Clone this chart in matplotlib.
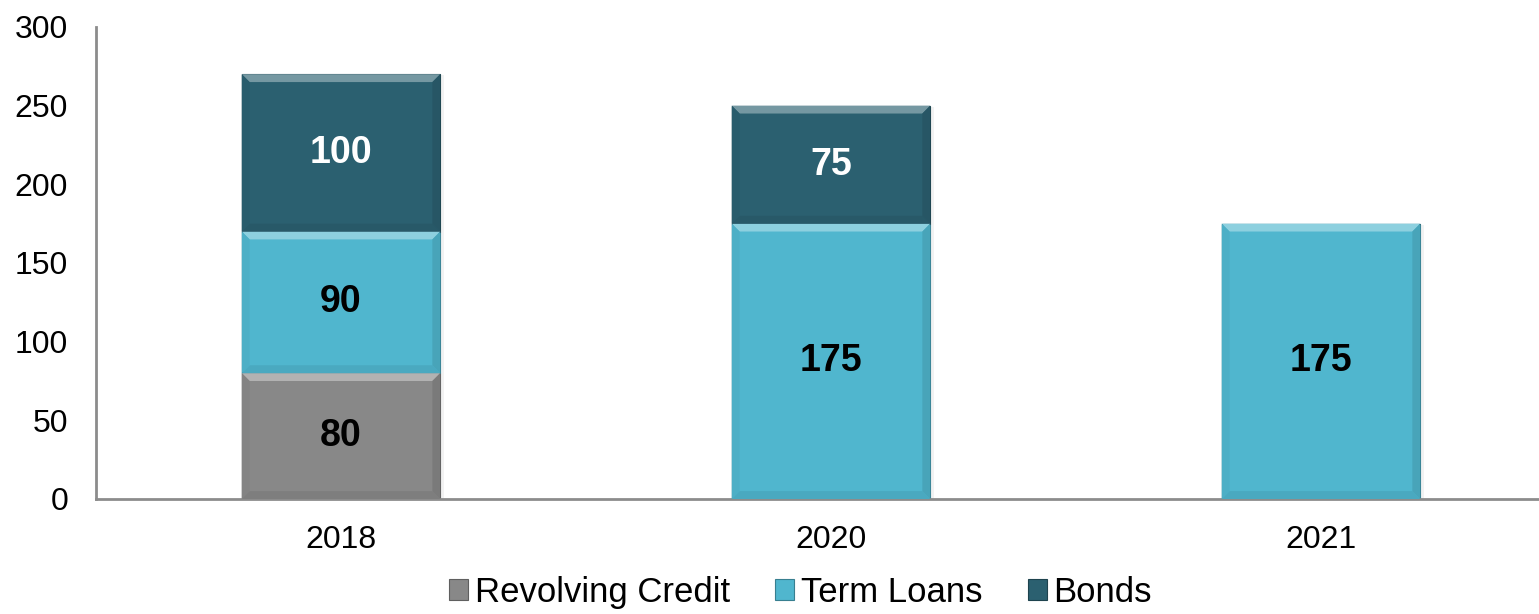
import matplotlib.pyplot as plt
import matplotlib as mpl
import numpy as np
from matplotlib.patches import Polygon, Patch
from matplotlib.colors import to_rgb

mpl.rcParams['font.family'] = ['Liberation Sans', 'DejaVu Sans']

years = ['2018', '2020', '2021']
revolving = [80, 0, 0]
term_loans = [90, 175, 175]
bonds = [100, 75, 0]

series_names = ['Revolving Credit', 'Term Loans', 'Bonds']
series_colors = ['#888888', '#50B6CE', '#2B6070']
label_colors = ['black', 'black', 'white']


def mix(c, other, t):
    c = np.array(to_rgb(c))
    o = np.array(to_rgb(other))
    return tuple(c * (1 - t) + o * t)


def bevel(ax, x0, y0, w, h, color):
    # light top edge, slightly darker sides and bottom
    bx, by = 0.016, 5.0
    x1, y1 = x0 + w, y0 + h
    top = [(x0, y1), (x1, y1), (x1 - bx, y1 - by), (x0 + bx, y1 - by)]
    bot = [(x0, y0), (x1, y0), (x1 - bx, y0 + by), (x0 + bx, y0 + by)]
    left = [(x0, y0), (x0, y1), (x0 + bx, y1 - by), (x0 + bx, y0 + by)]
    right = [(x1, y0), (x1, y1), (x1 - bx, y1 - by), (x1 - bx, y0 + by)]
    ax.add_patch(Polygon(top, closed=True, fc=mix(color, 'white', 0.35), ec='none', zorder=3))
    ax.add_patch(Polygon(bot, closed=True, fc=mix(color, 'black', 0.07), ec='none', zorder=3))
    ax.add_patch(Polygon(left, closed=True, fc=mix(color, 'black', 0.04), ec='none', zorder=3))
    ax.add_patch(Polygon(right, closed=True, fc=mix(color, 'black', 0.1), ec='none', zorder=3))


fig = plt.figure(figsize=(15.39, 6.14), dpi=100)
ax = fig.add_axes([96 / 1539, 115 / 614, 1443 / 1539, 472 / 614])

x = np.arange(len(years))
width = 0.405
bottom = np.zeros(len(years))

for vals, name, col, lc in zip([revolving, term_loans, bonds], series_names, series_colors, label_colors):
    vals = np.array(vals, dtype=float)
    # soft shadow behind the bars
    ax.bar(x + 0.003, vals, width + 0.008, bottom=bottom - 0.8, color='#000000',
           alpha=0.05, edgecolor='none', zorder=1)
    bars = ax.bar(x, vals, width, bottom=bottom, color=col,
                  edgecolor=mix(col, 'black', 0.3), linewidth=0.8, zorder=2)
    for rect, v in zip(bars, vals):
        if v <= 0:
            continue
        bevel(ax, rect.get_x(), rect.get_y(), rect.get_width(), rect.get_height(), col)
        ax.text(rect.get_x() + rect.get_width() / 2, rect.get_y() + v / 2, '%d' % v,
                ha='center', va='center', fontsize=27, fontweight='bold', color=lc, zorder=4)
    bottom += vals

ax.set_xlim(-0.5, 2.445)
ax.set_ylim(0, 300)
ax.set_yticks(range(0, 301, 50))
ax.set_xticks(x)
ax.set_xticklabels(years)
ax.tick_params(axis='both', length=0, labelsize=23)
ax.tick_params(axis='y', pad=20)
ax.tick_params(axis='x', pad=19)

for s in ['top', 'right']:
    ax.spines[s].set_visible(False)
for s in ['left', 'bottom']:
    ax.spines[s].set_color('#8C8C8C')
    ax.spines[s].set_linewidth(2)

handles = [Patch(facecolor=c, edgecolor=mix(c, 'black', 0.3), linewidth=0.8) for c in series_colors]
fig.legend(handles, series_names, loc='lower center', bbox_to_anchor=(0.52, -0.042), ncol=3,
           frameon=False, fontsize=25, handlelength=0.55, handleheight=0.55,
           handletextpad=0.2, columnspacing=1.3)

plt.savefig('out.png', dpi=100)
